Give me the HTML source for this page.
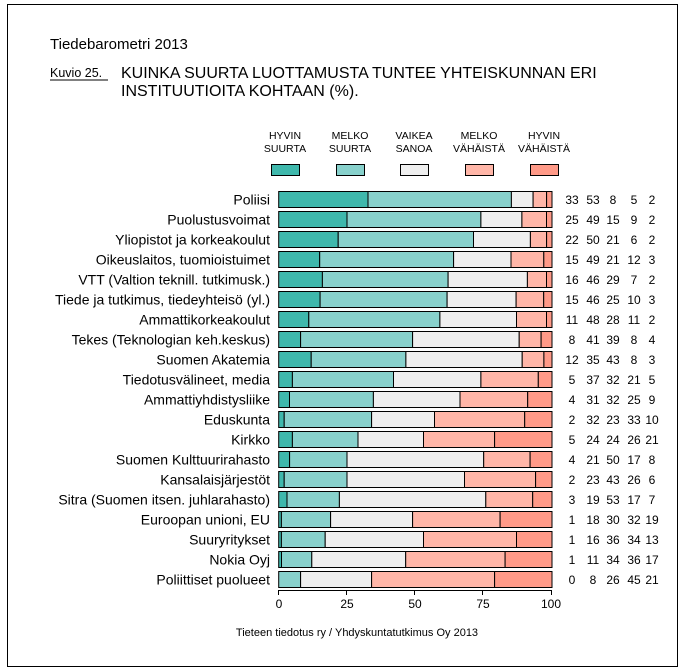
<!DOCTYPE html>
<html><head><meta charset="utf-8"><style>
body{margin:0;background:#fff;}
svg{display:block;font-family:"Liberation Sans",Arial,sans-serif;}
rect{stroke:#000;stroke-width:1;}
.a{fill:#3fb8ac}.b{fill:#88d1cc}.c{fill:#efefef}.d{fill:#ffb6a8}.e{fill:#ff9a88}
.l{font-size:14px;text-anchor:end}
.n{font-size:12px;text-anchor:middle}
</style></head><body>
<svg width="685" height="672" viewBox="0 0 685 672" xmlns="http://www.w3.org/2000/svg">
<rect x="7.5" y="4.5" width="670" height="662" fill="#fff"/>
<text x="50" y="49" font-size="15">Tiedebarometri 2013</text>
<text x="50" y="77" font-size="12.5">Kuvio 25.</text>
<line x1="50" y1="80" x2="108" y2="80" stroke="#000" stroke-width="1"/>
<text x="121" y="78" font-size="16">KUINKA SUURTA LUOTTAMUSTA TUNTEE YHTEISKUNNAN ERI</text>
<text x="121" y="96" font-size="16">INSTITUUTIOITA KOHTAAN (%).</text>
<g font-size="10.5" text-anchor="middle">
<text x="285" y="139">HYVIN</text><text x="285" y="152">SUURTA</text>
<text x="350" y="139">MELKO</text><text x="350" y="152">SUURTA</text>
<text x="414" y="139">VAIKEA</text><text x="414" y="152">SANOA</text>
<text x="479" y="139">MELKO</text><text x="479" y="152">VÄHÄISTÄ</text>
<text x="544" y="139">HYVIN</text><text x="544" y="152">VÄHÄISTÄ</text>
</g>
<rect class="a" x="271.5" y="164.5" width="28" height="11"/>
<rect class="b" x="336.5" y="164.5" width="28" height="11"/>
<rect class="c" x="400.5" y="164.5" width="28" height="11"/>
<rect class="d" x="465.5" y="164.5" width="28" height="11"/>
<rect class="e" x="530.5" y="164.5" width="28" height="11"/>

<g transform="translate(0,191.5)">
<rect class="a" x="278.7" y="0" width="89.3" height="16"/><rect class="b" x="368" y="0" width="143.4" height="16"/><rect class="c" x="511.4" y="0" width="21.7" height="16"/><rect class="d" x="533.1" y="0" width="13.5" height="16"/><rect class="e" x="546.6" y="0" width="5.4" height="16"/>
<text class="l" x="270" y="13">Poliisi</text>
<text class="n" x="572" y="12.5">33</text><text class="n" x="593" y="12.5">53</text><text class="n" x="613" y="12.5">8</text><text class="n" x="634" y="12.5">5</text><text class="n" x="652" y="12.5">2</text></g>

<g transform="translate(0,211.5)">
<rect class="a" x="278.7" y="0" width="68.3" height="16"/><rect class="b" x="347" y="0" width="133.9" height="16"/><rect class="c" x="480.9" y="0" width="41" height="16"/><rect class="d" x="521.9" y="0" width="24.6" height="16"/><rect class="e" x="546.5" y="0" width="5.5" height="16"/>
<text class="l" x="270" y="13">Puolustusvoimat</text>
<text class="n" x="572" y="12.5">25</text><text class="n" x="593" y="12.5">49</text><text class="n" x="613" y="12.5">15</text><text class="n" x="634" y="12.5">9</text><text class="n" x="652" y="12.5">2</text></g>

<g transform="translate(0,231.5)">
<rect class="a" x="278.7" y="0" width="59.5" height="16"/><rect class="b" x="338.2" y="0" width="135.3" height="16"/><rect class="c" x="473.5" y="0" width="56.9" height="16"/><rect class="d" x="530.4" y="0" width="16.2" height="16"/><rect class="e" x="546.6" y="0" width="5.4" height="16"/>
<text class="l" x="270" y="13">Yliopistot ja korkeakoulut</text>
<text class="n" x="572" y="12.5">22</text><text class="n" x="593" y="12.5">50</text><text class="n" x="613" y="12.5">21</text><text class="n" x="634" y="12.5">6</text><text class="n" x="652" y="12.5">2</text></g>

<g transform="translate(0,251.5)">
<rect class="a" x="278.7" y="0" width="41" height="16"/><rect class="b" x="319.7" y="0" width="133.9" height="16"/><rect class="c" x="453.6" y="0" width="57.4" height="16"/><rect class="d" x="511" y="0" width="32.8" height="16"/><rect class="e" x="543.8" y="0" width="8.2" height="16"/>
<text class="l" x="270" y="13">Oikeuslaitos, tuomioistuimet</text>
<text class="n" x="572" y="12.5">15</text><text class="n" x="593" y="12.5">49</text><text class="n" x="613" y="12.5">21</text><text class="n" x="634" y="12.5">12</text><text class="n" x="652" y="12.5">3</text></g>

<g transform="translate(0,271.5)">
<rect class="a" x="278.7" y="0" width="43.7" height="16"/><rect class="b" x="322.4" y="0" width="125.7" height="16"/><rect class="c" x="448.1" y="0" width="79.3" height="16"/><rect class="d" x="527.4" y="0" width="19.1" height="16"/><rect class="e" x="546.5" y="0" width="5.5" height="16"/>
<text class="l" x="270" y="13">VTT (Valtion teknill. tutkimusk.)</text>
<text class="n" x="572" y="12.5">16</text><text class="n" x="593" y="12.5">46</text><text class="n" x="613" y="12.5">29</text><text class="n" x="634" y="12.5">7</text><text class="n" x="652" y="12.5">2</text></g>

<g transform="translate(0,291.5)">
<rect class="a" x="278.7" y="0" width="41.4" height="16"/><rect class="b" x="320.1" y="0" width="127" height="16"/><rect class="c" x="447.1" y="0" width="69" height="16"/><rect class="d" x="516.1" y="0" width="27.6" height="16"/><rect class="e" x="543.7" y="0" width="8.3" height="16"/>
<text class="l" x="270" y="13">Tiede ja tutkimus, tiedeyhteisö (yl.)</text>
<text class="n" x="572" y="12.5">15</text><text class="n" x="593" y="12.5">46</text><text class="n" x="613" y="12.5">25</text><text class="n" x="634" y="12.5">10</text><text class="n" x="652" y="12.5">3</text></g>

<g transform="translate(0,311.5)">
<rect class="a" x="278.7" y="0" width="30.1" height="16"/><rect class="b" x="308.8" y="0" width="131.1" height="16"/><rect class="c" x="439.9" y="0" width="76.6" height="16"/><rect class="d" x="516.5" y="0" width="30" height="16"/><rect class="e" x="546.5" y="0" width="5.5" height="16"/>
<text class="l" x="270" y="13">Ammattikorkeakoulut</text>
<text class="n" x="572" y="12.5">11</text><text class="n" x="593" y="12.5">48</text><text class="n" x="613" y="12.5">28</text><text class="n" x="634" y="12.5">11</text><text class="n" x="652" y="12.5">2</text></g>

<g transform="translate(0,331.5)">
<rect class="a" x="278.7" y="0" width="21.9" height="16"/><rect class="b" x="300.6" y="0" width="112" height="16"/><rect class="c" x="412.6" y="0" width="106.6" height="16"/><rect class="d" x="519.2" y="0" width="21.9" height="16"/><rect class="e" x="541.1" y="0" width="10.9" height="16"/>
<text class="l" x="270" y="13">Tekes (Teknologian keh.keskus)</text>
<text class="n" x="572" y="12.5">8</text><text class="n" x="593" y="12.5">41</text><text class="n" x="613" y="12.5">39</text><text class="n" x="634" y="12.5">8</text><text class="n" x="652" y="12.5">4</text></g>

<g transform="translate(0,351.5)">
<rect class="a" x="278.7" y="0" width="32.5" height="16"/><rect class="b" x="311.2" y="0" width="94.7" height="16"/><rect class="c" x="405.9" y="0" width="116.3" height="16"/><rect class="d" x="522.2" y="0" width="21.7" height="16"/><rect class="e" x="543.9" y="0" width="8.1" height="16"/>
<text class="l" x="270" y="13">Suomen Akatemia</text>
<text class="n" x="572" y="12.5">12</text><text class="n" x="593" y="12.5">35</text><text class="n" x="613" y="12.5">43</text><text class="n" x="634" y="12.5">8</text><text class="n" x="652" y="12.5">3</text></g>

<g transform="translate(0,371.5)">
<rect class="a" x="278.7" y="0" width="13.7" height="16"/><rect class="b" x="292.4" y="0" width="101.1" height="16"/><rect class="c" x="393.5" y="0" width="87.4" height="16"/><rect class="d" x="480.9" y="0" width="57.4" height="16"/><rect class="e" x="538.3" y="0" width="13.7" height="16"/>
<text class="l" x="270" y="13">Tiedotusvälineet, media</text>
<text class="n" x="572" y="12.5">5</text><text class="n" x="593" y="12.5">37</text><text class="n" x="613" y="12.5">32</text><text class="n" x="634" y="12.5">21</text><text class="n" x="652" y="12.5">5</text></g>

<g transform="translate(0,391.5)">
<rect class="a" x="278.7" y="0" width="10.8" height="16"/><rect class="b" x="289.5" y="0" width="83.9" height="16"/><rect class="c" x="373.4" y="0" width="86.6" height="16"/><rect class="d" x="460" y="0" width="67.7" height="16"/><rect class="e" x="527.7" y="0" width="24.3" height="16"/>
<text class="l" x="270" y="13">Ammattiyhdistysliike</text>
<text class="n" x="572" y="12.5">4</text><text class="n" x="593" y="12.5">31</text><text class="n" x="613" y="12.5">32</text><text class="n" x="634" y="12.5">25</text><text class="n" x="652" y="12.5">9</text></g>

<g transform="translate(0,411.5)">
<rect class="a" x="278.7" y="0" width="5.5" height="16"/><rect class="b" x="284.2" y="0" width="87.4" height="16"/><rect class="c" x="371.6" y="0" width="62.9" height="16"/><rect class="d" x="434.5" y="0" width="90.2" height="16"/><rect class="e" x="524.7" y="0" width="27.3" height="16"/>
<text class="l" x="270" y="13">Eduskunta</text>
<text class="n" x="572" y="12.5">2</text><text class="n" x="593" y="12.5">32</text><text class="n" x="613" y="12.5">23</text><text class="n" x="634" y="12.5">33</text><text class="n" x="652" y="12.5">10</text></g>

<g transform="translate(0,431.5)">
<rect class="a" x="278.7" y="0" width="13.7" height="16"/><rect class="b" x="292.4" y="0" width="65.6" height="16"/><rect class="c" x="358" y="0" width="65.5" height="16"/><rect class="d" x="423.5" y="0" width="71.1" height="16"/><rect class="e" x="494.6" y="0" width="57.4" height="16"/>
<text class="l" x="270" y="13">Kirkko</text>
<text class="n" x="572" y="12.5">5</text><text class="n" x="593" y="12.5">24</text><text class="n" x="613" y="12.5">24</text><text class="n" x="634" y="12.5">26</text><text class="n" x="652" y="12.5">21</text></g>

<g transform="translate(0,451.5)">
<rect class="a" x="278.7" y="0" width="10.9" height="16"/><rect class="b" x="289.6" y="0" width="57.4" height="16"/><rect class="c" x="347" y="0" width="136.7" height="16"/><rect class="d" x="483.7" y="0" width="46.4" height="16"/><rect class="e" x="530.1" y="0" width="21.9" height="16"/>
<text class="l" x="270" y="13">Suomen Kulttuurirahasto</text>
<text class="n" x="572" y="12.5">4</text><text class="n" x="593" y="12.5">21</text><text class="n" x="613" y="12.5">50</text><text class="n" x="634" y="12.5">17</text><text class="n" x="652" y="12.5">8</text></g>

<g transform="translate(0,471.5)">
<rect class="a" x="278.7" y="0" width="5.5" height="16"/><rect class="b" x="284.2" y="0" width="62.8" height="16"/><rect class="c" x="347" y="0" width="117.5" height="16"/><rect class="d" x="464.5" y="0" width="71.1" height="16"/><rect class="e" x="535.6" y="0" width="16.4" height="16"/>
<text class="l" x="270" y="13">Kansalaisjärjestöt</text>
<text class="n" x="572" y="12.5">2</text><text class="n" x="593" y="12.5">23</text><text class="n" x="613" y="12.5">43</text><text class="n" x="634" y="12.5">26</text><text class="n" x="652" y="12.5">6</text></g>

<g transform="translate(0,491.5)">
<rect class="a" x="278.7" y="0" width="8.3" height="16"/><rect class="b" x="287" y="0" width="52.4" height="16"/><rect class="c" x="339.4" y="0" width="146.4" height="16"/><rect class="d" x="485.8" y="0" width="46.9" height="16"/><rect class="e" x="532.7" y="0" width="19.3" height="16"/>
<text class="l" x="270" y="13">Sitra (Suomen itsen. juhlarahasto)</text>
<text class="n" x="572" y="12.5">3</text><text class="n" x="593" y="12.5">19</text><text class="n" x="613" y="12.5">53</text><text class="n" x="634" y="12.5">17</text><text class="n" x="652" y="12.5">7</text></g>

<g transform="translate(0,511.5)">
<rect class="a" x="278.7" y="0" width="2.7" height="16"/><rect class="b" x="281.4" y="0" width="49.2" height="16"/><rect class="c" x="330.6" y="0" width="82" height="16"/><rect class="d" x="412.6" y="0" width="87.5" height="16"/><rect class="e" x="500.1" y="0" width="51.9" height="16"/>
<text class="l" x="270" y="13">Euroopan unioni, EU</text>
<text class="n" x="572" y="12.5">1</text><text class="n" x="593" y="12.5">18</text><text class="n" x="613" y="12.5">30</text><text class="n" x="634" y="12.5">32</text><text class="n" x="652" y="12.5">19</text></g>

<g transform="translate(0,531.5)">
<rect class="a" x="278.7" y="0" width="2.7" height="16"/><rect class="b" x="281.4" y="0" width="43.8" height="16"/><rect class="c" x="325.2" y="0" width="98.3" height="16"/><rect class="d" x="423.5" y="0" width="93" height="16"/><rect class="e" x="516.5" y="0" width="35.5" height="16"/>
<text class="l" x="270" y="13">Suuryritykset</text>
<text class="n" x="572" y="12.5">1</text><text class="n" x="593" y="12.5">16</text><text class="n" x="613" y="12.5">36</text><text class="n" x="634" y="12.5">34</text><text class="n" x="652" y="12.5">13</text></g>

<g transform="translate(0,551.5)">
<rect class="a" x="278.7" y="0" width="2.8" height="16"/><rect class="b" x="281.5" y="0" width="30.3" height="16"/><rect class="c" x="311.8" y="0" width="93.9" height="16"/><rect class="d" x="405.7" y="0" width="99.4" height="16"/><rect class="e" x="505.1" y="0" width="46.9" height="16"/>
<text class="l" x="270" y="13">Nokia Oyj</text>
<text class="n" x="572" y="12.5">1</text><text class="n" x="593" y="12.5">11</text><text class="n" x="613" y="12.5">34</text><text class="n" x="634" y="12.5">36</text><text class="n" x="652" y="12.5">17</text></g>

<g transform="translate(0,571.5)">
<rect class="b" x="278.7" y="0" width="21.9" height="16"/><rect class="c" x="300.6" y="0" width="71" height="16"/><rect class="d" x="371.6" y="0" width="123" height="16"/><rect class="e" x="494.6" y="0" width="57.4" height="16"/>
<text class="l" x="270" y="13">Poliittiset puolueet</text>
<text class="n" x="572" y="12.5">0</text><text class="n" x="593" y="12.5">8</text><text class="n" x="613" y="12.5">26</text><text class="n" x="634" y="12.5">45</text><text class="n" x="652" y="12.5">21</text></g>

<line x1="278.5" y1="590.5" x2="551.5" y2="590.5" stroke="#000"/>
<g stroke="#000">
<line x1="278.5" y1="590" x2="278.5" y2="595"/><line x1="346.5" y1="590" x2="346.5" y2="595"/>
<line x1="414.5" y1="590" x2="414.5" y2="595"/><line x1="482.5" y1="590" x2="482.5" y2="595"/>
<line x1="551.5" y1="590" x2="551.5" y2="595"/>
</g>
<g font-size="12" text-anchor="middle">
<text x="279" y="608">0</text><text x="347" y="608">25</text><text x="415" y="608">50</text><text x="483" y="608">75</text><text x="551" y="608">100</text>
</g>
<text x="357" y="636" font-size="11" text-anchor="middle">Tieteen tiedotus ry / Yhdyskuntatutkimus Oy 2013</text>
</svg>
</body></html>
